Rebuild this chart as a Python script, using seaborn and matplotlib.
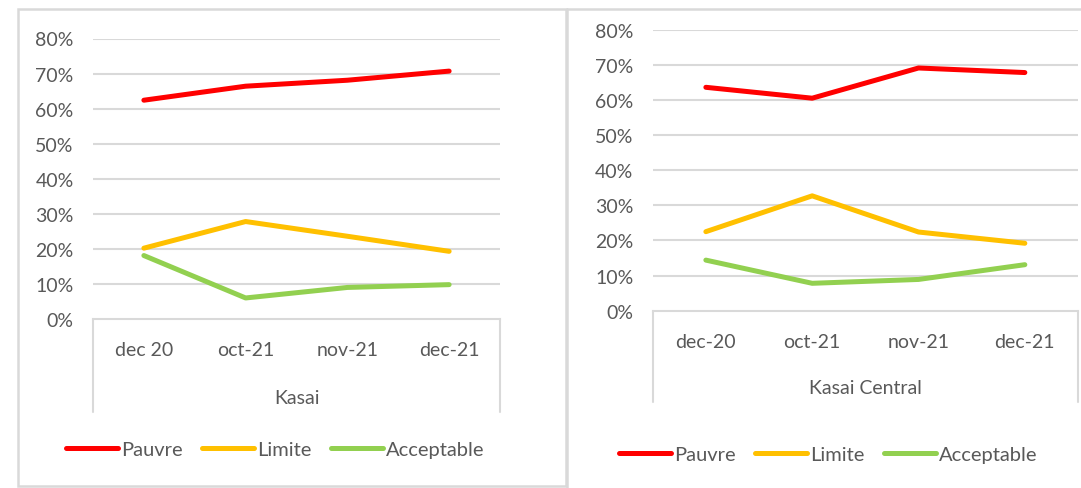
import pandas as pd
import numpy as np
import matplotlib
matplotlib.use("Agg")
import matplotlib.pyplot as plt
from matplotlib.lines import Line2D
import seaborn as sns

# Data
series = ["Pauvre", "Limite", "Acceptable"]
colors = ["#FF0000", "#FFC000", "#92D050"]

kasai_months = ["dec 20", "oct-21", "nov-21", "dec-21"]
kasai_pauvre = [0.624, 0.664, 0.681, 0.707]
kasai_limite = [0.202, 0.278, 0.236, 0.193]
kasai_acceptable = [0.181, 0.060, 0.090, 0.098]

central_months = ["dec-20", "oct-21", "nov-21", "dec-21"]
central_pauvre = [0.636, 0.605, 0.691, 0.678]
central_limite = [0.225, 0.327, 0.224, 0.192]
central_acceptable = [0.144, 0.078, 0.089, 0.131]

yticks = [0, 0.1, 0.2, 0.3, 0.4, 0.5, 0.6, 0.7, 0.8]
ytick_labels = ["0%", "10%", "20%", "30%", "40%", "50%", "60%", "70%", "80%"]


def long_df(months, pauvre, limite, acceptable):
    rows = []
    for name, vals in zip(series, [pauvre, limite, acceptable]):
        for m, v in zip(months, vals):
            rows.append({"mois": m, "valeur": v, "serie": name})
    return pd.DataFrame(rows)


sns.set_style("white")
plt.rcParams["font.family"] = ["Lato", "DejaVu Sans"]
TXT = "#595959"
GRID = "#D9D9D9"

W, H = 1081, 489
fig = plt.figure(figsize=(W / 100, H / 100), dpi=100)


def px_axes(x0, x1, y0, y1):
    return fig.add_axes([x0 / W, 1 - y1 / H, (x1 - x0) / W, (y1 - y0) / H])


def draw_panel(ax, df, months, region, box_depth, region_y):
    sns.lineplot(data=df, x="mois", y="valeur", hue="serie", hue_order=series,
                 palette=colors, sort=False, linewidth=3.6, legend=False,
                 ax=ax, solid_capstyle="round")
    ax.set_xlim(-0.5, 3.5)
    ax.set_ylim(0, 0.8)
    ax.set_yticks(yticks)
    ax.set_yticklabels(ytick_labels)
    ax.set_xticks(range(len(months)))
    ax.set_xticklabels(months)
    ax.tick_params(axis="y", length=0, pad=14, labelsize=14, labelcolor=TXT)
    ax.tick_params(axis="x", length=0, pad=16, labelsize=14, labelcolor=TXT)
    ax.set_xlabel("")
    ax.set_ylabel("")
    for s in ["top", "left", "right"]:
        ax.spines[s].set_visible(False)
    ax.spines["bottom"].set_color(GRID)
    ax.spines["bottom"].set_linewidth(1.5)
    for y in yticks[1:]:
        ax.axhline(y, color=GRID, lw=1.5, zorder=0)
    # category box of the multi-level axis
    for xx in (0, 1):
        ax.plot([xx, xx], [0, -box_depth], transform=ax.transAxes,
                color=GRID, lw=1.5, clip_on=False)
    ax.text(0.5, -region_y, region, transform=ax.transAxes, ha="center",
            va="center", fontsize=14, color=TXT)


ax1 = px_axes(93, 500, 39.5, 320)
draw_panel(ax1, long_df(kasai_months, kasai_pauvre, kasai_limite, kasai_acceptable),
           kasai_months, "Kasai", (413 - 320) / 280.5, (398 - 320) / 280.5)

ax2 = px_axes(652.7, 1078, 30.7, 311.7)
draw_panel(ax2, long_df(central_months, central_pauvre, central_limite, central_acceptable),
           central_months, "Kasai Central", (403 - 311.7) / 281, (388 - 311.7) / 281)

handles = [Line2D([0], [0], color=c, lw=3.6, solid_capstyle="round") for c in colors]
for cx, cy in [(275 / W, 1 - 450 / H), (828 / W, 1 - 455 / H)]:
    fig.legend(handles, series, loc="center", bbox_to_anchor=(cx, cy), ncol=3,
               frameon=False, fontsize=14.5, labelcolor=TXT, handlelength=2.6,
               handletextpad=0.15, columnspacing=0.95, borderpad=0)

# panel borders
fig.add_artist(plt.Rectangle((17.5 / W, 1 - 486.5 / H), (566 - 17.5) / W, (486.5 - 10) / H,
                             transform=fig.transFigure, fill=False, edgecolor=GRID, lw=1.8))
fig.add_artist(Line2D([567 / W, 1], [1 - 10 / H, 1 - 10 / H], transform=fig.transFigure,
                      color=GRID, lw=1.8))
fig.add_artist(Line2D([567 / W, 567 / W], [0, 1 - 10 / H], transform=fig.transFigure,
                      color=GRID, lw=1.8))

fig.savefig("out.png", dpi=100)
